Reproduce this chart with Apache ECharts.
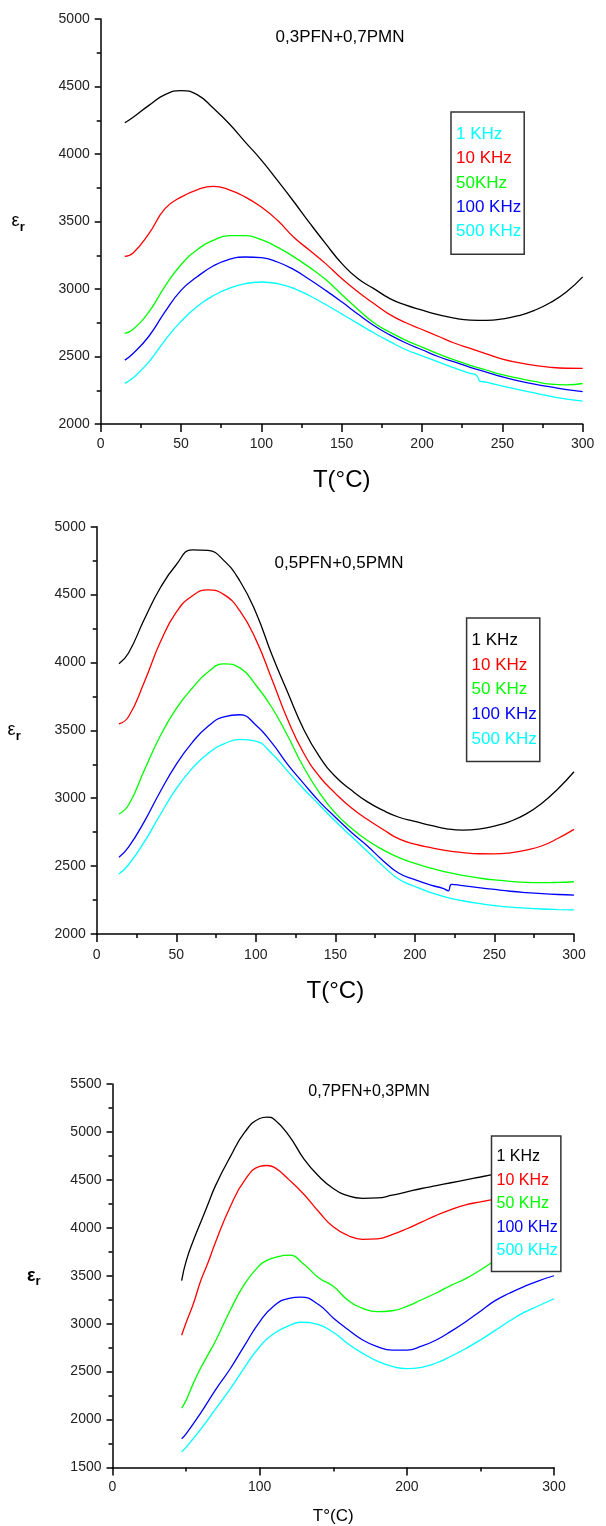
<!DOCTYPE html>
<html>
<head>
<meta charset="utf-8">
<script src="https://cdn.jsdelivr.net/npm/echarts@6/dist/echarts.min.js"></script>
<style>html,body{margin:0;padding:0;background:#fff}#c{width:606px;height:1526px}</style>
</head>
<body>
<div id="c"></div>
<script>
// ---------- Chart 1 : 0,3PFN+0,7PMN ----------
var c1T = [15,20,30,40,50,60,70,80,90,100,110,120,130,140,150,160,170,180,190,200,210,220,230,240,250,260,270,280,290,300];
var c1K1 = [4231,4270,4360,4440,4470,4440,4340,4224,4088,3955,3804,3650,3490,3336,3190,3077,3003,2929,2880,2843,2810,2784,2770,2768,2778,2802,2842,2900,2980,3090];
var c1K10 = [3242,3265,3410,3595,3681,3735,3760,3735,3681,3607,3509,3385,3287,3188,3077,2979,2892,2810,2750,2700,2650,2600,2560,2520,2480,2455,2435,2420,2413,2412];
var c1K50 = [2671,2700,2830,3020,3180,3290,3360,3395,3395,3365,3310,3240,3160,3070,2960,2850,2750,2680,2620,2570,2520,2475,2435,2400,2365,2340,2315,2295,2290,2300];
var c1K100 = [2473,2520,2650,2830,2990,3090,3170,3220,3237,3232,3200,3145,3070,2990,2905,2815,2730,2660,2600,2550,2500,2460,2420,2385,2350,2320,2295,2275,2255,2240];
var c1K500T = [15,20,30,40,50,60,70,80,90,100,110,120,130,140,150,160,170,180,190,200,210,220,230,234,236,240,250,260,270,280,290,300];
var c1K500 = [2301,2340,2460,2620,2760,2870,2950,3005,3040,3052,3040,3005,2950,2885,2815,2745,2675,2610,2550,2505,2460,2415,2375,2360,2318,2310,2280,2255,2230,2205,2185,2170];

// ---------- Chart 2 : 0,5PFN+0,5PMN ----------
var c2T = [14,20,30,40,50,60,70,80,90,100,110,120,130,140,150,160,170,180,190,200,210,220,230,240,250,260,270,280,290,300];
var c2K1 = [3990,4070,4320,4550,4720,4830,4825,4750,4600,4370,4060,3780,3510,3306,3160,3060,2975,2910,2860,2830,2800,2775,2765,2772,2795,2830,2885,2965,3070,3195];
var c2K10 = [3547,3600,3858,4150,4370,4490,4534,4500,4380,4170,3880,3580,3335,3160,3036,2930,2845,2770,2700,2662,2636,2614,2600,2591,2590,2598,2618,2650,2705,2771];
var c2K50 = [2884,2950,3208,3460,3660,3810,3930,3989,3960,3834,3670,3460,3230,3040,2890,2780,2690,2620,2562,2520,2485,2455,2432,2413,2398,2388,2380,2378,2380,2385];
var c2K100T = [14,20,30,40,50,60,70,80,90,100,110,120,130,140,150,160,170,180,190,200,210,218,221,223,230,240,250,260,270,280,290,300];
var c2K100 = [2565,2640,2830,3050,3250,3410,3530,3600,3615,3540,3410,3250,3110,2975,2860,2750,2650,2540,2447,2400,2360,2335,2318,2366,2356,2342,2328,2315,2305,2297,2291,2287];
var c2K500 = [2442,2510,2680,2880,3070,3220,3330,3400,3434,3420,3330,3200,3070,2950,2830,2720,2610,2500,2403,2350,2305,2270,2245,2225,2210,2198,2190,2184,2180,2177];

// ---------- Chart 3 : 0,7PFN+0,3PMN ----------
var c3T = [47,50,55,60,65,70,80,90,100,105,110,120,130,140,150,160,170,180,190,200,210,220,230,240,250,258];
var c3K1 = [3450,3650,3870,4060,4250,4440,4740,5000,5140,5155,5130,4960,4720,4540,4410,4335,4308,4312,4340,4375,4410,4440,4470,4500,4530,4555];
var c3K10 = [2880,3010,3210,3450,3640,3850,4220,4500,4640,4650,4630,4500,4350,4170,4010,3920,3880,3885,3930,3990,4060,4130,4190,4240,4270,4295];
var c3K50 = [2120,2200,2380,2540,2680,2820,3140,3420,3610,3660,3690,3715,3620,3480,3390,3245,3160,3125,3135,3180,3250,3320,3400,3470,3560,3640];
var c3LT = [47,50,60,70,80,90,100,110,120,128,140,150,160,170,180,190,200,210,220,230,240,250,260,270,280,290,300];
var c3K100 = [1800,1850,2070,2310,2530,2780,3020,3190,3265,3278,3200,3060,2940,2830,2760,2725,2725,2765,2830,2920,3020,3130,3240,3320,3390,3450,3500];
var c3K500 = [1665,1710,1900,2110,2320,2550,2760,2900,2980,3015,2990,2910,2790,2690,2610,2555,2532,2545,2590,2660,2740,2830,2930,3030,3120,3190,3260];

var FONT = "'Liberation Sans', Arial, sans-serif";
var BLACK = '#000000', RED = '#ff0000', GREEN = '#00ff00', BLUE = '#0000ff', CYAN = '#00ffff';

function pairs(T, V) { return T.map(function (t, i) { return [t, V[i]]; }); }
function line(name, T, V, color, idx) {
  return {
    type: 'line', name: name, xAxisIndex: idx, yAxisIndex: idx,
    data: pairs(T, V), showSymbol: false, symbol: 'none', smooth: 0.5,
    lineStyle: { color: color, width: 1.3 }, itemStyle: { color: color }, animation: false
  };
}
function plain(v) { return String(v); }
function xAxis(idx, interval, nameSize, nameGap, name, margin) {
  return {
    type: 'value', gridIndex: idx, min: 0, max: 300, interval: interval,
    name: name, nameLocation: 'middle', nameGap: nameGap,
    nameTextStyle: { fontSize: nameSize, color: '#000', fontFamily: FONT },
    axisLine: { onZero: false, lineStyle: { color: '#000', width: 1.5 } },
    axisTick: { length: 8, lineStyle: { color: '#000', width: 1.5 } },
    minorTick: { show: true, splitNumber: 2, length: 4, lineStyle: { color: '#000', width: 1.5 } },
    axisLabel: { fontSize: 14, color: '#222', margin: margin, fontFamily: FONT, formatter: plain },
    splitLine: { show: false }
  };
}
function yAxis(idx, min, max, nameGap, bold) {
  return {
    type: 'value', gridIndex: idx, min: min, max: max, interval: 500,
    name: '{e|ε}{s|r}', nameLocation: 'middle', nameRotate: 0, nameGap: nameGap,
    nameTextStyle: { rich: {
      e: { fontSize: 18, color: '#000', fontFamily: FONT, fontWeight: bold ? 'bold' : 'normal' },
      s: { fontSize: 13, color: '#000', fontFamily: FONT, fontWeight: 'bold', padding: [12, 0, 0, 0] }
    } },
    axisLine: { onZero: false, lineStyle: { color: '#000', width: 1.5 } },
    axisTick: { length: 6, lineStyle: { color: '#000', width: 1.5 } },
    minorTick: { show: true, splitNumber: 2, length: 4, lineStyle: { color: '#000', width: 1.5 } },
    axisLabel: { fontSize: 14, color: '#222', margin: 11, fontFamily: FONT, formatter: plain },
    splitLine: { show: false }
  };
}
function legend(left, top, padding, fontSize, gap, items) {
  return {
    orient: 'vertical', left: left, top: top, padding: padding,
    icon: 'none', itemWidth: 0, itemHeight: fontSize, itemGap: gap,
    selectedMode: false, backgroundColor: '#ffffff',
    borderColor: '#333', borderWidth: 1.5,
    textStyle: { fontSize: fontSize, lineHeight: fontSize, fontFamily: FONT },
    data: items.map(function (it) { return { name: it[0], textStyle: { color: it[1] } }; })
  };
}

var option = {
  backgroundColor: '#ffffff',
  animation: false,
  title: [
    { text: '0,3PFN+0,7PMN', left: 340, top: 37.5, textAlign: 'center', textVerticalAlign: 'middle',
      padding: 0, textStyle: { fontSize: 17, fontWeight: 'normal', color: '#000', fontFamily: FONT } },
    { text: '0,5PFN+0,5PMN', left: 339, top: 563, textAlign: 'center', textVerticalAlign: 'middle',
      padding: 0, textStyle: { fontSize: 17, fontWeight: 'normal', color: '#000', fontFamily: FONT } },
    { text: '0,7PFN+0,3PMN', left: 369, top: 1092, textAlign: 'center', textVerticalAlign: 'middle',
      padding: 0, textStyle: { fontSize: 16, fontWeight: 'normal', color: '#000', fontFamily: FONT } }
  ],
  grid: [
    { left: 100.7, top: 19, width: 482, height: 405 },
    { left: 96.7, top: 526.7, width: 477.3, height: 407.3 },
    { left: 112.5, top: 1084, width: 441.5, height: 383.5 }
  ],
  xAxis: [
    xAxis(0, 50, 24, 44, 'T(°C)', 13),
    xAxis(1, 50, 24, 45, 'T(°C)', 14),
    xAxis(2, 100, 17, 40, 'T°(C)', 13)
  ],
  yAxis: [
    yAxis(0, 2000, 5000, 76, false),
    yAxis(1, 2000, 5000, 76, false),
    yAxis(2, 1500, 5500, 72, true)
  ],
  legend: [
    legend(451, 112, [14, 3, 14, 0], 17, 7.3,
      [['1 KHz', CYAN], ['10 KHz', RED], ['50KHz', GREEN], ['100 KHz', BLUE], ['500 KHz', CYAN]]),
    legend(466.6, 618, [14, 3, 14, 0], 17, 7.6,
      [['1 KHz', BLACK], ['10 KHz', RED], ['50 KHz', GREEN], ['100 KHz', BLUE], ['500 KHz', CYAN]]),
    legend(491.5, 1136, [12.7, 3, 12.7, 0], 16, 7.5,
      [['1 KHz', BLACK], ['10 KHz', RED], ['50 KHz', GREEN], ['100 KHz', BLUE], ['500 KHz', CYAN]])
  ],
  series: [
    line('1 KHz', c1T, c1K1, BLACK, 0),
    line('10 KHz', c1T, c1K10, RED, 0),
    line('50KHz', c1T, c1K50, GREEN, 0),
    line('100 KHz', c1T, c1K100, BLUE, 0),
    line('500 KHz', c1K500T, c1K500, CYAN, 0),

    line('1 KHz', c2T, c2K1, BLACK, 1),
    line('10 KHz', c2T, c2K10, RED, 1),
    line('50 KHz', c2T, c2K50, GREEN, 1),
    line('100 KHz', c2K100T, c2K100, BLUE, 1),
    line('500 KHz', c2T, c2K500, CYAN, 1),

    line('1 KHz', c3T, c3K1, BLACK, 2),
    line('10 KHz', c3T, c3K10, RED, 2),
    line('50 KHz', c3T, c3K50, GREEN, 2),
    line('100 KHz', c3LT, c3K100, BLUE, 2),
    line('500 KHz', c3LT, c3K500, CYAN, 2)
  ]
};
var chart = echarts.init(document.getElementById('c'), null, { renderer: 'canvas' });
chart.setOption(option);
</script>
</body>
</html>
